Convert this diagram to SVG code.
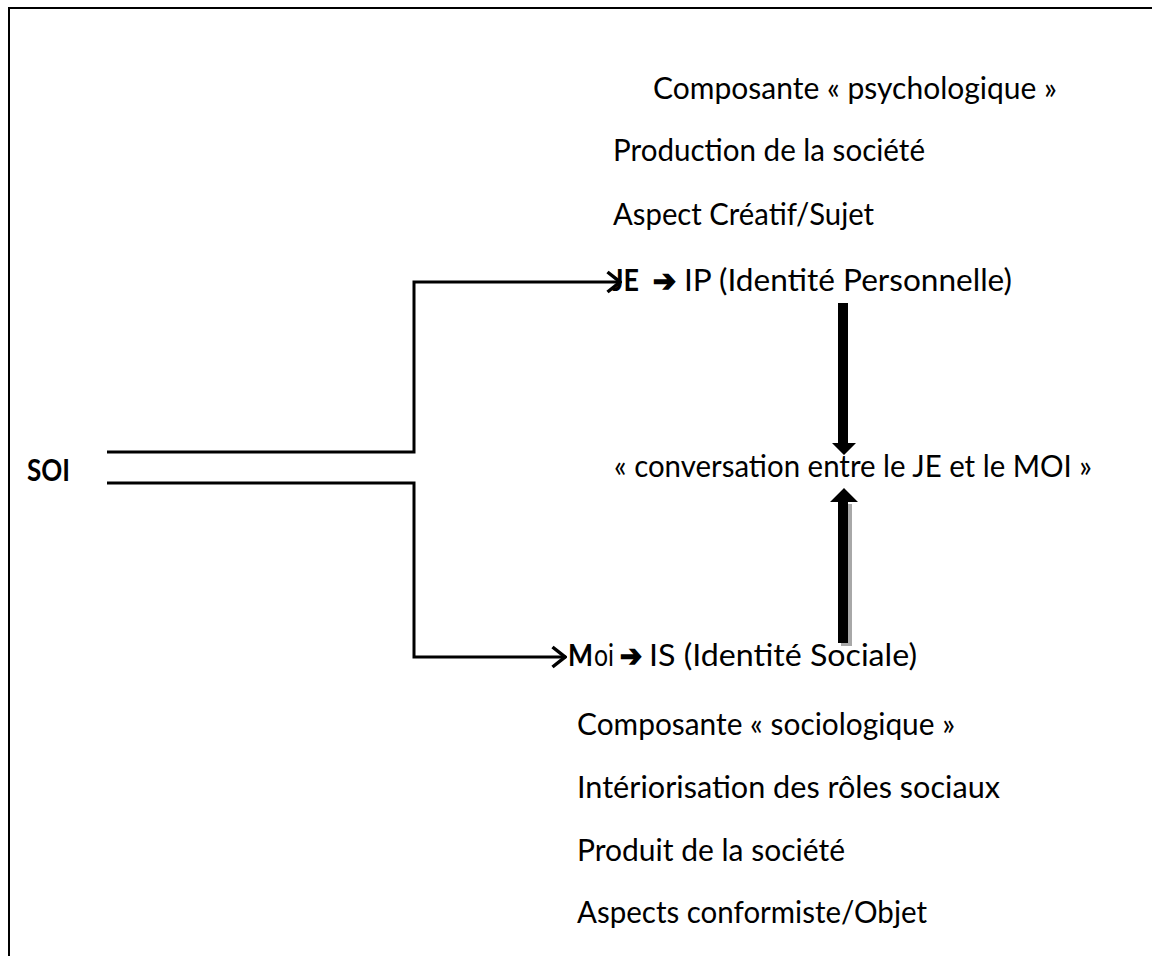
<svg xmlns="http://www.w3.org/2000/svg" width="1152" height="956" viewBox="0 0 1152 956">
<style>
  .t { font-family: Lato, "Open Sans", "Liberation Sans", sans-serif; font-size: 30px; fill: #000; }
  .b { font-weight: bold; }
  .sym { font-family: "DejaVu Sans", sans-serif; font-size: 30px; font-weight: bold; fill: #000; stroke: #000; stroke-width: 1.6; }
  .conn { fill: none; stroke: #000; stroke-width: 3; }
  .frame { fill: none; stroke: #000; stroke-width: 2; }
</style>
<defs>
  <marker id="chevron" viewBox="0 0 16 24" refX="15" refY="12" markerWidth="16" markerHeight="24" markerUnits="userSpaceOnUse" orient="auto">
    <path d="M1.5,2 L14,12 L1.5,22" fill="none" stroke="#000" stroke-width="3.5"/>
  </marker>
</defs>
<rect width="1152" height="956" fill="#fff"/>
<path class="frame" d="M9,956 V8 H1152"/>

<g id="connectors">
  <path class="conn" d="M107,452 H414 V282 H621" marker-end="url(#chevron)"/>
  <path class="conn" d="M107,483 H414 V657 H566" marker-end="url(#chevron)"/>
  <!-- down block arrow -->
  <path d="M838,303 H848 V443 H856 L844,455 L832,443 H838 Z" fill="#000"/>
  <!-- up block arrow with shadow -->
  <path d="M841,504 H852 V646 H841 Z" fill="#a8a8a8"/>
  <path d="M838,643 H848 V502 H858 L844,488 L830,502 H838 Z" fill="#000"/>
</g>

<g id="node-soi">
  <text class="t b" x="27" y="481" textLength="43" lengthAdjust="spacingAndGlyphs">SOI</text>
</g>

<g id="node-psych-list">
  <text class="t" x="653" y="99" textLength="404" lengthAdjust="spacingAndGlyphs">Composante « psychologique »</text>
  <text class="t" x="613" y="161" textLength="312" lengthAdjust="spacingAndGlyphs">Production de la société</text>
  <text class="t" x="613" y="225" textLength="261" lengthAdjust="spacingAndGlyphs">Aspect Créatif/Sujet</text>
</g>

<g id="node-je">
  <text class="t b" x="612" y="291" textLength="27" lengthAdjust="spacingAndGlyphs">JE</text>
  <text class="sym" x="653" y="291" textLength="23" lengthAdjust="spacingAndGlyphs">➔</text>
  <text class="t" x="684" y="291" textLength="328" lengthAdjust="spacingAndGlyphs">IP (Identité Personnelle)</text>
</g>

<g id="node-conversation">
  <text class="t" x="614" y="477" textLength="478" lengthAdjust="spacingAndGlyphs">« conversation entre le JE et le MOI »</text>
</g>

<g id="node-moi">
  <text class="t b" x="568" y="666" textLength="25" lengthAdjust="spacingAndGlyphs">M</text>
  <text class="t" x="594" y="666" textLength="20" lengthAdjust="spacingAndGlyphs">oi</text>
  <text class="sym" x="620" y="666" textLength="22" lengthAdjust="spacingAndGlyphs">➔</text>
  <text class="t" x="649" y="666" textLength="268" lengthAdjust="spacingAndGlyphs">IS (Identité Sociale)</text>
</g>

<g id="node-socio-list">
  <text class="t" x="577" y="735" textLength="378" lengthAdjust="spacingAndGlyphs">Composante « sociologique »</text>
  <text class="t" x="577" y="798" textLength="423" lengthAdjust="spacingAndGlyphs">Intériorisation des rôles sociaux</text>
  <text class="t" x="577" y="861" textLength="268" lengthAdjust="spacingAndGlyphs">Produit de la société</text>
  <text class="t" x="577" y="923" textLength="350" lengthAdjust="spacingAndGlyphs">Aspects conformiste/Objet</text>
</g>
</svg>
